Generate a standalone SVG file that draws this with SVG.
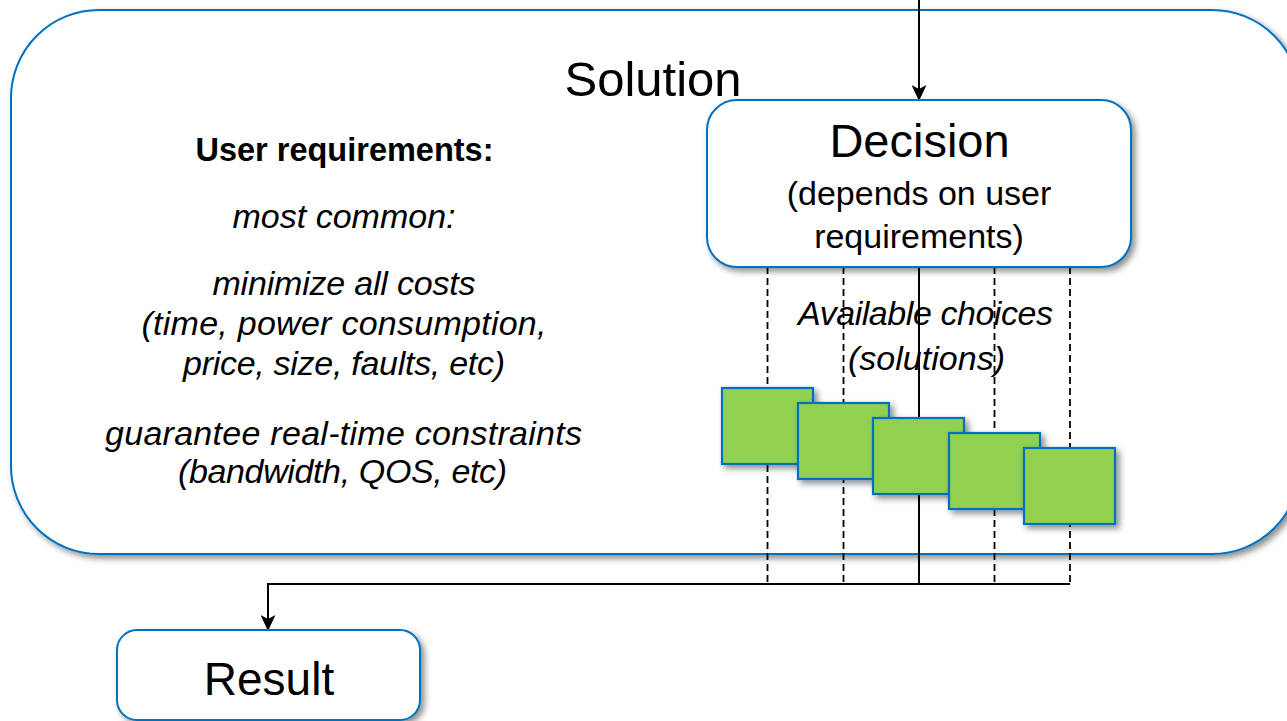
<svg xmlns="http://www.w3.org/2000/svg" width="1287" height="721" viewBox="0 0 1287 721">
<style>
text{font-family:"Liberation Sans",Arial,sans-serif;fill:#000;text-anchor:middle}
.it{font-style:italic;font-size:34px}
.box{fill:#fff;stroke:#0070C0;stroke-width:2}
.sq{fill:#92D050;stroke:#0070C0;stroke-width:2.2}
.ln{stroke:#000;stroke-width:2;fill:none}
.dash{stroke:#000;stroke-width:1.8;fill:none;stroke-dasharray:7 4}
</style>
<defs>
<filter id="sh" x="-10%" y="-10%" width="130%" height="130%">
<feDropShadow dx="3.5" dy="3.5" stdDeviation="3" flood-color="#000" flood-opacity="0.45"/>
</filter>
<marker id="arr" viewBox="0 0 16 15" markerWidth="16" markerHeight="15" refX="15" refY="7.5" orient="auto" markerUnits="userSpaceOnUse">
<path d="M0,0 L16,7.5 L0,15 L4,7.5 Z" fill="#000"/>
</marker>
</defs>
<g id="solution">
<rect class="box" x="11" y="10" width="1289" height="544" rx="88" filter="url(#sh)"/>
<text x="653" y="96" font-size="49">Solution</text>
</g>
<g id="requirements">
<text x="344.5" y="161" font-size="32.5" font-weight="bold">User requirements:</text>
<text class="it" x="344" y="228" textLength="223">most common:</text>
<text class="it" x="344" y="295" textLength="263">minimize all costs</text>
<text class="it" x="344" y="335" textLength="405">(time, power consumption,</text>
<text class="it" x="344" y="375" textLength="322">price, size, faults, etc)</text>
<text class="it" x="343.5" y="445" textLength="477">guarantee real-time constraints</text>
<text class="it" x="342.5" y="483" textLength="329">(bandwidth, QOS, etc)</text>
</g>
<g id="choices-label">
<text class="it" x="925.5" y="325" textLength="255">Available choices</text>
<text class="it" x="926.5" y="370" textLength="157">(solutions)</text>
</g>
<g id="connectors">
<line class="ln" x1="919" y1="0" x2="919" y2="100" marker-end="url(#arr)"/>
<line class="dash" x1="767.5" y1="267" x2="767.5" y2="584"/>
<line class="dash" x1="843.5" y1="267" x2="843.5" y2="584"/>
<line class="ln" x1="919" y1="267" x2="919" y2="584"/>
<line class="dash" x1="994.5" y1="267" x2="994.5" y2="584"/>
<line class="dash" x1="1070" y1="267" x2="1070" y2="584"/>
<path class="ln" d="M1070,584 H268 V630" marker-end="url(#arr)"/>
</g>
<g id="choices">
<rect class="sq" x="722" y="388" width="91" height="76" filter="url(#sh)"/>
<rect class="sq" x="798" y="403" width="91" height="76" filter="url(#sh)"/>
<rect class="sq" x="873" y="418" width="91" height="76" filter="url(#sh)"/>
<rect class="sq" x="949" y="433" width="91" height="76" filter="url(#sh)"/>
<rect class="sq" x="1024" y="448" width="91" height="76" filter="url(#sh)"/>
</g>
<g id="decision">
<rect class="box" x="707" y="100" width="424" height="167" rx="30" filter="url(#sh)"/>
<text x="919.5" y="157" font-size="47">Decision</text>
<text x="919" y="205" font-size="34">(depends on user</text>
<text x="919" y="248" font-size="34">requirements)</text>
</g>
<g id="result">
<rect class="box" x="117" y="630" width="303" height="90" rx="20" filter="url(#sh)"/>
<text x="269" y="695" font-size="46">Result</text>
</g>
</svg>
